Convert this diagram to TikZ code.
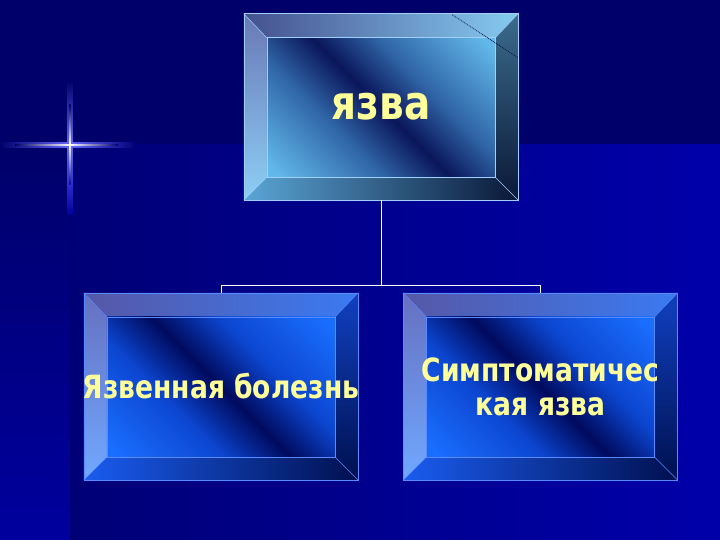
\documentclass[tikz,border=0pt]{standalone}
\usepackage{fontspec}
\setmainfont{DejaVu Sans}
\newfontfamily\boxfont[FakeStretch=0.83]{DejaVu Sans}
\usetikzlibrary{calc}
\pgfdeclarelayer{bg}
\pgfsetlayers{bg,main}
\definecolor{bgdark}{HTML}{00006A}
\definecolor{bgleft}{HTML}{00009E}
\definecolor{bgmid}{HTML}{000076}
\definecolor{bgbright}{HTML}{0000AA}
\definecolor{txt}{HTML}{FFFF99}
% top box colours
\definecolor{aTopL}{HTML}{44508F}
\definecolor{aTopR}{HTML}{86CBF0}
\definecolor{aLeftT}{HTML}{6A78B6}
\definecolor{aLeftB}{HTML}{8CCFF5}
\definecolor{aRightT}{HTML}{3C6C8C}
\definecolor{aRightB}{HTML}{0A1838}
\definecolor{aBotL}{HTML}{5AA6D6}
\definecolor{aBotR}{HTML}{0A1838}
\definecolor{aFaceL}{HTML}{62B8EA}
\definecolor{aFaceM}{HTML}{3066A8}
\definecolor{aFaceD}{HTML}{0A165A}
\definecolor{aLine}{HTML}{A0D0FF}
% bottom boxes colours
\definecolor{bTopL}{HTML}{5658A6}
\definecolor{bTopR}{HTML}{3A7AF2}
\definecolor{bLeftT}{HTML}{6670C0}
\definecolor{bLeftB}{HTML}{70A8FF}
\definecolor{bRightT}{HTML}{1040C0}
\definecolor{bRightB}{HTML}{001050}
\definecolor{bBotL}{HTML}{1A5CF0}
\definecolor{bBotR}{HTML}{001050}
\definecolor{bFaceL}{HTML}{1A6EFF}
\definecolor{bFaceM}{HTML}{0C46D0}
\definecolor{bFaceD}{HTML}{000A5E}
\definecolor{bLine}{HTML}{5A8AFF}
\pgfdeclareverticalshading{facea}{100bp}{color(0bp)=(aFaceL); color(17bp)=(aFaceL);
  color(37bp)=(aFaceM); color(50bp)=(aFaceD); color(63bp)=(aFaceM);
  color(83bp)=(aFaceL); color(100bp)=(aFaceL)}
\pgfdeclareverticalshading{faceb}{100bp}{color(0bp)=(bFaceL); color(17bp)=(bFaceL);
  color(37bp)=(bFaceM); color(50bp)=(bFaceD); color(63bp)=(bFaceM);
  color(83bp)=(bFaceL); color(100bp)=(bFaceL)}
\newcommand\bevelbox[2]{%
  \coordinate (#1-tl) at ($(#1.north west)+(23,24)$);
  \coordinate (#1-tr) at ($(#1.north east)+(-23,24)$);
  \coordinate (#1-bl) at ($(#1.south west)+(23,-23)$);
  \coordinate (#1-br) at ($(#1.south east)+(-23,-23)$);
  \shade[left color=#2TopL, right color=#2TopR] (#1.north west) -- (#1.north east) -- (#1-tr) -- (#1-tl) -- cycle;
  \shade[top color=#2LeftT, bottom color=#2LeftB] (#1.north west) -- (#1-tl) -- (#1-bl) -- (#1.south west) -- cycle;
  \shade[top color=#2RightT, bottom color=#2RightB] (#1.north east) -- (#1-tr) -- (#1-br) -- (#1.south east) -- cycle;
  \shade[left color=#2BotL, right color=#2BotR] (#1.south west) -- (#1-bl) -- (#1-br) -- (#1.south east) -- cycle;
  \shade[shading=face#2, shading angle=-45] (#1-tl) rectangle (#1-br);
  \draw[#2Line, line width=0.6pt] (#1.north west) rectangle (#1.south east);
  \draw[#2Line, line width=0.6pt] (#1-tl) rectangle (#1-br);
  \draw[#2Line, line width=0.5pt] (#1.north west) -- (#1-tl) (#1.north east) -- (#1-tr)
       (#1.south west) -- (#1-bl) (#1.south east) -- (#1-br);
}
\tikzset{
  boxnode/.style={minimum width=274pt, inner sep=0pt, align=center, text=txt,
     font=\boxfont\bfseries\fontsize{32}{34}\selectfont},
  conn/.style={draw=white, line width=0.8pt},
}
\begin{document}
\begin{tikzpicture}[x=1pt,y=-1pt]
\useasboundingbox (0,0) rectangle (720,540);
\node[boxnode, minimum height=186pt, font=\boxfont\bfseries\fontsize{47}{50}\selectfont] (top) at (381,107) {\raisebox{-4pt}{язва}};
\node[boxnode, minimum height=187pt] (left) at (221,386.5) {\makebox[0pt]{Язвенная болезнь}};
\node[boxnode, minimum height=187pt] (right) at (540.5,386.5) {Симптоматичес\\кая язва};
\begin{pgfonlayer}{bg}
  \fill[bgdark] (0,0) rectangle (720,540);
  \shade[top color=bgdark, bottom color=bgleft] (0,145) rectangle (70,540);
  \shade[left color=bgmid, right color=bgbright] (70,145) rectangle (720,540);
  % sparkle
  \shade[top color=bgdark, bottom color=blue!60!white] (67.5,80) rectangle (72.5,145);
  \shade[top color=blue!60!white, bottom color=bgleft] (67.5,145) rectangle (72.5,215);
  \shade[left color=bgdark, right color=blue!60!white] (0,142.5) rectangle (70,147.5);
  \shade[left color=blue!60!white, right color=bgmid] (70,142.5) rectangle (135,147.5);
  \shade[top color=bgdark, bottom color=white] (69.3,105) rectangle (70.7,145);
  \shade[top color=white, bottom color=bgleft] (69.3,145) rectangle (70.7,185);
  \shade[left color=bgdark, right color=white] (15,144.3) rectangle (70,145.7);
  \shade[left color=white, right color=bgmid] (70,144.3) rectangle (118,145.7);
  \bevelbox{top}{a}
  \bevelbox{left}{b}
  \bevelbox{right}{b}
  \draw[aFaceD!80!black, densely dotted, line width=0.8pt] ($(top.north east)+(-66,1)$) -- ($(top.north east)+(0,44)$);
  \draw[conn] (top.south) -- ++(0,85) -| (left.north);
  \draw[conn] (top.south) -- ++(0,85) -| (right.north);
\end{pgfonlayer}
\end{tikzpicture}
\end{document}
